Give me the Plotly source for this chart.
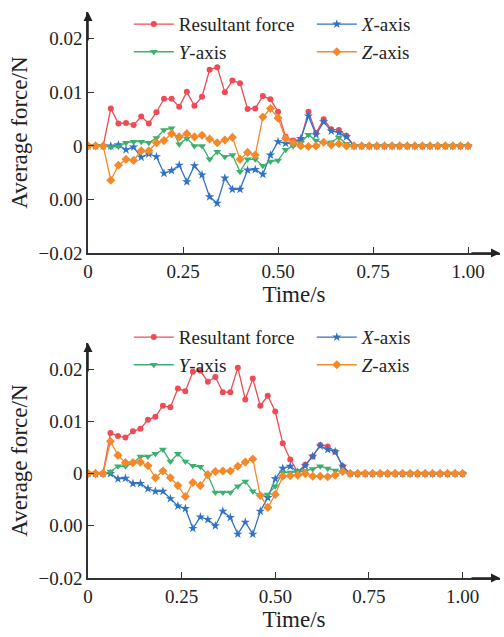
import plotly.graph_objects as go

time = [round(i * 0.02, 2) for i in range(51)]
zeros_tail = [0.0] * 16  # t = 0.70 ... 1.00

# ---- top chart ----
top_res = [0, 0, 0, 0.0070, 0.0042, 0.0043, 0.0039, 0.0055, 0.0042, 0.0063,
           0.0088, 0.0088, 0.0073, 0.0101, 0.0075, 0.0092, 0.0142, 0.0147, 0.0100, 0.0122,
           0.0117, 0.0069, 0.0070, 0.0093, 0.0087, 0.0064, 0.0017, 0.0010, 0.0012, 0.0064,
           0.0024, 0.0050, 0.0031, 0.0030, 0.0019] + zeros_tail
top_x = [0, 0, 0, 0.0000, 0.0002, -0.0007, -0.0002, -0.0021, -0.0015, -0.0020,
         -0.0051, -0.0046, -0.0036, -0.0067, -0.0037, -0.0054, -0.0095, -0.0107, -0.0060, -0.0081,
         -0.0081, -0.0045, -0.0044, -0.0053, -0.0017, 0.0008, 0.0005, 0.0005, 0.0014, 0.0056,
         0.0021, 0.0045, 0.0028, 0.0025, 0.0017] + zeros_tail
top_y = [0, 0, 0, -0.0002, -0.0001, 0.0006, 0.0008, 0.0008, 0.0006, 0.0015,
         0.0030, 0.0033, 0.0003, 0.0014, 0.0000, 0.0000, -0.0025, -0.0011, -0.0020, -0.0017,
         -0.0048, -0.0025, -0.0025, -0.0037, -0.0029, -0.0027, -0.0007, 0.0000, 0.0006, 0.0021,
         0.0010, 0.0006, 0.0007, 0.0016, 0.0004] + zeros_tail
top_z = [0, 0, 0, -0.0064, -0.0036, -0.0025, -0.0027, -0.0009, -0.0009, 0.0006,
         0.0010, 0.0023, 0.0017, 0.0023, 0.0017, 0.0020, 0.0013, 0.0006, 0.0011, 0.0016,
         -0.0025, -0.0012, -0.0017, 0.0054, 0.0070, 0.0052, 0.0014, 0.0006, 0.0000, -0.0001,
         0.0000, 0.0007, 0.0002, 0.0004, 0.0000] + zeros_tail

# ---- bottom chart ----
bot_res = [0, 0, 0, 0.0078, 0.0072, 0.0069, 0.0081, 0.0086, 0.0103, 0.0109,
           0.0130, 0.0127, 0.0163, 0.0158, 0.0195, 0.0197, 0.0176, 0.0185, 0.0156, 0.0156,
           0.0203, 0.0142, 0.0182, 0.0130, 0.0149, 0.0119, 0.0058, 0.0027, 0.0003, 0.0017,
           0.0033, 0.0055, 0.0052, 0.0042, 0.0014] + zeros_tail
bot_x = [0, 0, 0, 0.0000, -0.0010, -0.0009, -0.0019, -0.0019, -0.0029, -0.0034,
         -0.0034, -0.0048, -0.0062, -0.0067, -0.0105, -0.0083, -0.0088, -0.0100, -0.0072, -0.0084,
         -0.0116, -0.0093, -0.0116, -0.0072, -0.0046, -0.0010, 0.0010, 0.0014, 0.0003, 0.0015,
         0.0033, 0.0053, 0.0046, 0.0042, 0.0014] + zeros_tail
bot_y = [0, 0, 0, 0.0004, 0.0014, 0.0014, 0.0020, 0.0033, 0.0033, 0.0038,
         0.0046, 0.0023, 0.0038, 0.0023, 0.0015, 0.0013, -0.0003, -0.0036, -0.0036, -0.0036,
         -0.0024, -0.0015, -0.0034, -0.0042, -0.0040, -0.0024, 0.0002, 0.0002, 0.0004, 0.0005,
         0.0009, 0.0014, 0.0010, 0.0006, 0.0003] + zeros_tail
bot_z = [0, 0, 0, 0.0062, 0.0035, 0.0021, 0.0021, 0.0022, 0.0015, -0.0008,
         0.0005, -0.0008, -0.0023, -0.0044, -0.0017, -0.0023, -0.0002, 0.0004, 0.0005, 0.0005,
         0.0014, 0.0022, 0.0028, -0.0042, -0.0065, -0.0040, -0.0005, -0.0004, -0.0003, 0.0000,
         -0.0005, -0.0005, -0.0006, -0.0003, 0.0004] + zeros_tail

y_tickvals = [-0.02, -0.01, 0, 0.01, 0.02]
y_ticktext = ["\u22120.02", "0.00", "0", "0.01", "0.02"]
x_tickvals = [0, 0.25, 0.5, 0.75, 1.0]
x_ticktext = ["0", "0.25", "0.50", "0.75", "1.00"]

series_names = ["Resultant force", "<i>X</i>-axis", "<i>Y</i>-axis", "<i>Z</i>-axis"]
colors = ["#ee4b57", "#2f72c6", "#3cb06e", "#f5892a"]
symbols = ["circle", "star", "triangle-down", "diamond"]
sizes = [6, 7, 7, 7]

FONT = "Liberation Serif"
FS = 19
fig = go.Figure()

for data, xa, ya, leg in [((top_res, top_x, top_y, top_z), "x", "y", "legend"),
                          ((bot_res, bot_x, bot_y, bot_z), "x2", "y2", "legend2")]:
    for i, vals in enumerate(data):
        fig.add_trace(go.Scatter(
            x=time, y=vals, xaxis=xa, yaxis=ya, legend=leg,
            mode="lines+markers", name=series_names[i],
            line=dict(color=colors[i], width=1.3),
            marker=dict(color=colors[i], symbol=symbols[i], size=sizes[i]),
        ))

axis_common = dict(showgrid=False, zeroline=False, showline=True, linecolor="#333",
                   linewidth=1.5, ticks="inside", ticklen=6, tickcolor="#333",
                   automargin=False,
                   tickfont=dict(family=FONT, size=FS, color="#222"))

leg_common = dict(orientation="h", xanchor="left", yanchor="top",
                  entrywidth=128, entrywidthmode="pixels", itemwidth=40,
                  font=dict(family=FONT, size=FS, color="#222"), bgcolor="rgba(0,0,0,0)",
                  tracegroupgap=0)

fig.update_layout(
    width=504, height=637,
    margin=dict(l=88, r=4, t=12, b=59),
    paper_bgcolor="white", plot_bgcolor="white",
    font=dict(family=FONT, size=FS, color="#222"),
    showlegend=True,
    xaxis=dict(domain=[0, 1], anchor="y", range=[0, 1.084], tickvals=x_tickvals,
               ticktext=x_ticktext, title=dict(text="Time/s", standoff=2), **axis_common),
    yaxis=dict(domain=[0.574, 1.0], anchor="x", range=[-0.02, 0.025], tickvals=y_tickvals,
               ticktext=y_ticktext, title=dict(text="Average force/N", standoff=4), **axis_common),
    xaxis2=dict(domain=[0, 1], anchor="y2", range=[0, 1.10], tickvals=x_tickvals,
                ticktext=x_ticktext, title=dict(text="Time/s", standoff=2), **axis_common),
    yaxis2=dict(domain=[0, 0.415], anchor="x2", range=[-0.02, 0.025], tickvals=y_tickvals,
                ticktext=y_ticktext, title=dict(text="Average force/N", standoff=4), **axis_common),
    legend=dict(x=0.099, y=1.012, **leg_common),
    legend2=dict(x=0.099, y=0.459, **leg_common),
)

# axis arrows
for xa, ya in [("x", "y"), ("x2", "y2")]:
    fig.add_annotation(x=1, y=0, xref=f"{xa} domain", yref=f"{ya} domain", ax=-30, ay=0,
                       showarrow=True, arrowhead=2, arrowsize=1.2, arrowwidth=1.5,
                       arrowcolor="#222", text="")
    fig.add_annotation(x=0, y=1, xref=f"{xa} domain", yref=f"{ya} domain", ax=0, ay=30,
                       showarrow=True, arrowhead=2, arrowsize=1.2, arrowwidth=1.5,
                       arrowcolor="#222", text="")

fig.write_html("out.html", config={"displayModeBar": False},
               post_script="document.body.style.margin='0';")
